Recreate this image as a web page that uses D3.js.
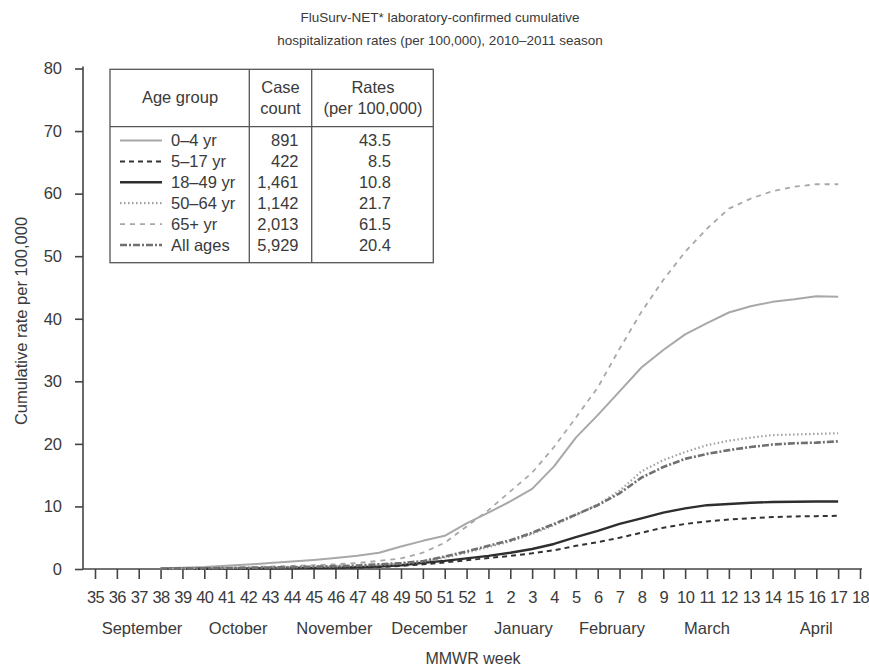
<!DOCTYPE html>
<meta charset="utf-8">
<html>
<head>
  <title>FluSurv-NET cumulative hospitalization rates</title>
  <style>
    body { margin: 0; background: #fff; }
    svg text { font-family: "Liberation Sans", Arial, sans-serif; fill: #3a3a3a; }
  </style>
</head>
<body>
  <script src="https://d3js.org/d3.v7.js"></script>
  <div id="chart"></div>
  <script>
    // MMWR week tick labels (week 35 of 2010 to week 18 of 2011)
    var weekLabels = ["35","36","37","38","39","40","41","42","43","44","45","46","47","48","49","50","51","52",
                      "1","2","3","4","5","6","7","8","9","10","11","12","13","14","15","16","17","18"];
    var firstWeek = 3; // series start at week 38

    var months = ["September", "October", "November", "December", "January", "February", "March", "April"];
    var monthCenter = [2.15, 6.55, 10.95, 15.3, 19.6, 23.65, 28.0, 33.0]; // in week-index units

    var ageGroups = ["0\u20134 yr", "5\u201317 yr", "18\u201349 yr", "50\u201364 yr", "65+ yr", "All ages"];
    var caseCounts = ["891", "422", "1,461", "1,142", "2,013", "5,929"];
    var rates = ["43.5", "8.5", "10.8", "21.7", "61.5", "20.4"];

    // cumulative rate per 100,000, weeks 38..52 then 1..17
    var age0to4 = [0.1, 0.2, 0.3, 0.5, 0.7, 0.95, 1.2, 1.45, 1.75, 2.1, 2.6, 3.6, 4.5, 5.3, 7.3,
                   9.0, 10.8, 12.8, 16.4, 21.0, 24.6, 28.4, 32.2, 35.0, 37.5, 39.3, 41.0, 42.0, 42.7, 43.1, 43.6, 43.5];
    var age5to17 = [0.02, 0.03, 0.05, 0.07, 0.09, 0.11, 0.13, 0.16, 0.19, 0.23, 0.3, 0.5, 0.75, 1.05, 1.4,
                    1.75, 2.1, 2.5, 3.0, 3.7, 4.3, 5.0, 5.8, 6.6, 7.2, 7.6, 7.9, 8.1, 8.3, 8.4, 8.45, 8.5];
    var age18to49 = [0.02, 0.04, 0.06, 0.08, 0.1, 0.12, 0.15, 0.18, 0.22, 0.28, 0.4, 0.6, 1.0, 1.3, 1.7,
                     2.1, 2.6, 3.2, 4.0, 5.1, 6.1, 7.2, 8.1, 9.0, 9.7, 10.2, 10.4, 10.6, 10.7, 10.75, 10.8, 10.8];
    var age50to64 = [0.03, 0.06, 0.1, 0.14, 0.18, 0.22, 0.27, 0.33, 0.4, 0.5, 0.65, 0.85, 1.15, 1.85, 2.6,
                     3.5, 4.4, 5.6, 7.0, 8.6, 10.3, 12.5, 15.6, 17.4, 18.7, 19.8, 20.5, 21.0, 21.4, 21.5, 21.6, 21.7];
    var age65plus = [0.05, 0.1, 0.15, 0.2, 0.3, 0.4, 0.5, 0.6, 0.75, 0.95, 1.3, 1.7, 2.6, 4.2, 6.8,
                     9.4, 12.4, 15.4, 19.5, 24.2, 29.0, 35.2, 41.1, 46.2, 50.7, 54.4, 57.6, 59.2, 60.4, 61.1, 61.5, 61.5];
    var allAges = [0.04, 0.07, 0.11, 0.15, 0.2, 0.25, 0.3, 0.37, 0.45, 0.55, 0.75, 0.95, 1.25, 2.0, 2.8,
                   3.7, 4.6, 5.8, 7.2, 8.7, 10.2, 12.1, 14.6, 16.3, 17.6, 18.4, 19.0, 19.5, 19.9, 20.1, 20.2, 20.4];

    var yTicks = [0, 10, 20, 30, 40, 50, 60, 70, 80];

    // line styles, same order as ageGroups
    var styles = [
      { color: "#a8a8a8", width: 2, dash: null },
      { color: "#333", width: 2, dash: "5,4" },
      { color: "#2e2e2e", width: 2.4, dash: null },
      { color: "#a0a0a0", width: 2.2, dash: "1.5,2.5" },
      { color: "#a8a8a8", width: 1.8, dash: "5,5" },
      { color: "#707070", width: 2.6, dash: "7,2,2,2" }
    ];
    var series = [age0to4, age5to17, age18to49, age50to64, age65plus, allAges];

    var W = 869, H = 669;
    var svg = d3.select("#chart").append("svg")
      .attr("width", W).attr("height", H);

    var x = d3.scaleLinear().domain([0, weekLabels.length - 1]).range([95, 860]);
    var y = d3.scaleLinear().domain([0, 80]).range([569, 68.5]);

    // title
    var title = svg.append("text")
      .attr("text-anchor", "middle")
      .style("font-size", "13.5px");
    title.append("tspan").attr("x", 440).attr("y", 22).text("FluSurv-NET* laboratory-confirmed cumulative");
    title.append("tspan").attr("x", 440).attr("y", 45).text("hospitalization rates (per 100,000), 2010\u20132011 season");

    // y axis
    var yAxis = svg.append("g")
      .attr("transform", "translate(83,0)")
      .call(d3.axisLeft(y).tickValues(yTicks).tickSize(8).tickPadding(13).tickSizeOuter(0));
    yAxis.selectAll("text").style("font-size", "16.5px");
    yAxis.selectAll("line, path").attr("stroke", "#444").attr("stroke-width", 1.6);
    yAxis.select(".domain").attr("d", "M0," + (y(80) - 2) + "V" + y(0));

    // x axis
    var xAxis = svg.append("g")
      .attr("transform", "translate(0," + y(0) + ")")
      .call(d3.axisBottom(x).tickValues(d3.range(weekLabels.length))
        .tickFormat(function (i) { return weekLabels[i]; })
        .tickSize(10).tickPadding(12).tickSizeOuter(0));
    xAxis.selectAll("text").style("font-size", "16.5px").attr("letter-spacing", "-0.6px");
    xAxis.selectAll("line, path").attr("stroke", "#444").attr("stroke-width", 1.6);
    xAxis.select(".domain").attr("d", "M83,0H862");

    svg.selectAll(".month")
      .data(months)
      .enter().append("text")
      .attr("class", "month")
      .attr("x", function (d, i) { return x(monthCenter[i]); })
      .attr("y", 634)
      .attr("text-anchor", "middle")
      .style("font-size", "16.5px")
      .text(function (d) { return d; });

    svg.append("text")
      .attr("x", 473).attr("y", 664)
      .attr("text-anchor", "middle")
      .style("font-size", "16px")
      .text("MMWR week");

    svg.append("text")
      .attr("transform", "translate(27,321) rotate(-90)")
      .attr("text-anchor", "middle")
      .style("font-size", "16.5px")
      .text("Cumulative rate per 100,000");

    // lines
    var line = d3.line()
      .x(function (d, i) { return x(firstWeek + i); })
      .y(function (d) { return y(d); });

    svg.selectAll(".series")
      .data(series)
      .enter().append("path")
      .attr("class", "series")
      .attr("fill", "none")
      .attr("stroke", function (d, i) { return styles[i].color; })
      .attr("stroke-width", function (d, i) { return styles[i].width; })
      .attr("stroke-dasharray", function (d, i) { return styles[i].dash; })
      .attr("stroke-linejoin", "round")
      .attr("d", line);

    // legend table
    var lg = svg.append("g");
    var box = { x0: 110, x1: 433.3, y0: 69.3, y1: 262.7, head: 126.7, c1: 249.3, c2: 311.7 };
    lg.append("rect")
      .attr("x", box.x0).attr("y", box.y0)
      .attr("width", box.x1 - box.x0).attr("height", box.y1 - box.y0)
      .attr("fill", "#fff").attr("stroke", "#555").attr("stroke-width", 1.3);
    lg.append("line").attr("x1", box.x0).attr("x2", box.x1).attr("y1", box.head).attr("y2", box.head)
      .attr("stroke", "#555").attr("stroke-width", 1.3);
    [box.c1, box.c2].forEach(function (cx) {
      lg.append("line").attr("x1", cx).attr("x2", cx).attr("y1", box.y0).attr("y2", box.y1)
        .attr("stroke", "#555").attr("stroke-width", 1.3);
    });

    function headText(tx, ty, s) {
      lg.append("text").attr("x", tx).attr("y", ty).attr("text-anchor", "middle")
        .style("font-size", "16.5px").text(s);
    }
    headText(180, 103, "Age group");
    headText(280.5, 92.7, "Case");
    headText(280.5, 114, "count");
    headText(373, 92.7, "Rates");
    headText(373, 114, "(per 100,000)");

    var rowY = d3.scaleLinear().domain([0, 1]).range([146, 166.9]);
    var rows = lg.selectAll(".row")
      .data(ageGroups)
      .enter().append("g")
      .attr("class", "row")
      .attr("transform", function (d, i) { return "translate(0," + rowY(i) + ")"; });

    rows.append("line")
      .attr("x1", 120).attr("x2", 162).attr("y1", -5.5).attr("y2", -5.5)
      .attr("stroke", function (d, i) { return styles[i].color; })
      .attr("stroke-width", function (d, i) { return styles[i].width; })
      .attr("stroke-dasharray", function (d, i) { return styles[i].dash; });
    rows.append("text").attr("x", 171).style("font-size", "16.5px").text(function (d) { return d; });
    rows.append("text").attr("x", 298.5).attr("text-anchor", "end").style("font-size", "16.5px")
      .text(function (d, i) { return caseCounts[i]; });
    rows.append("text").attr("x", 391).attr("text-anchor", "end").style("font-size", "16.5px")
      .text(function (d, i) { return rates[i]; });
  </script>
</body>
</html>
